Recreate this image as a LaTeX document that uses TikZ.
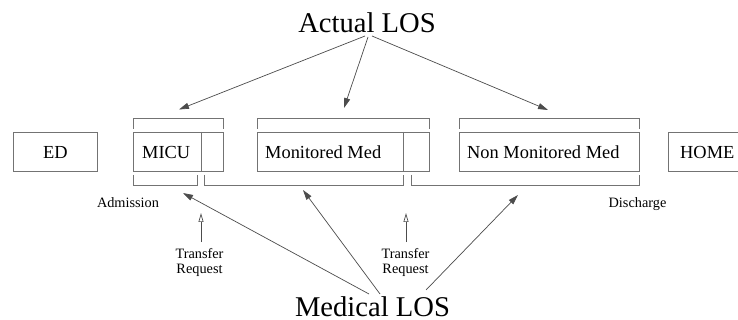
\documentclass[tikz,border=0pt]{standalone}
\usepackage{fontspec}
\setmainfont{Liberation Serif}
\usetikzlibrary{arrows.meta}
\begin{document}
\begin{tikzpicture}[x=1pt,y=-1pt,
  boxline/.style={draw=black!55,line width=0.9pt},
  unitbox/.style={boxline,rectangle,inner sep=0pt,minimum height=39pt,anchor=north west},
  boxtext/.style={font=\fontsize{18.4}{20}\selectfont,inner sep=0pt,anchor=base west},
  smalltext/.style={font=\fontsize{14.3}{15}\selectfont,inner sep=0pt,align=center},
  bigtext/.style={font=\fontsize{28.6}{30}\selectfont,inner sep=0pt,anchor=base},
  bracket/.style={draw=black!55,line width=0.9pt},
  losarrow/.style={draw=black!70,line width=0.7pt,-{Triangle[length=10pt,width=6pt]}},
  reqarrow/.style={draw=black!70,line width=0.7pt,-{Triangle[open,length=9pt,width=5pt,fill=white]}}
]
\useasboundingbox (0,0) rectangle (738,320);
\clip (0,0) rectangle (738,320);
\fill[white] (0,0) rectangle (738,320);

% unit boxes
\node[unitbox,minimum width=84pt] (ed) at (13,132) {};
\node[unitbox,minimum width=90pt] (micu) at (133,132) {};
\node[unitbox,minimum width=172pt] (mon) at (257,132) {};
\node[unitbox,minimum width=180pt] (nonmon) at (459,132) {};
\node[unitbox,minimum width=110pt] (home) at (668,132) {};
\draw[boxline] (201,132) -- (201,171);
\draw[boxline] (403,132) -- (403,171);

% box labels
\node[boxtext,anchor=base] (edt) at (55.5,159) {ED};
\node[boxtext] (micut) at (142,159) {MICU};
\node[boxtext] (mont) at (265,159) {Monitored Med};
\node[boxtext] (nonmont) at (467,159) {Non Monitored Med};
\node[boxtext] (homet) at (680,159) {HOME};

% top brackets (actual LOS)
\draw[bracket] (133,129) -- (133,118) -- (223,118) -- (223,129);
\draw[bracket] (257,129) -- (257,118) -- (429,118) -- (429,129);
\draw[bracket] (459,129) -- (459,118) -- (639,118) -- (639,129);

% bottom brackets (medical LOS)
\draw[bracket] (133,175) -- (133,185) -- (197,185) -- (197,175);
\draw[bracket] (204,175) -- (204,185) -- (403,185) -- (403,175);
\draw[bracket] (411,175) -- (411,185) -- (639,185) -- (639,175);

% small labels
\node[smalltext,anchor=base] (adm) at (128,207.5) {Admission};
\node[smalltext,anchor=base] (dis) at (637.5,207.5) {Discharge};
\node[smalltext] (tr1) at (199.5,262) {Transfer\\Request};
\node[smalltext] (tr2) at (405.5,262) {Transfer\\Request};

% big labels
\node[bigtext] (alos) at (367,32.3) {Actual LOS};
\node[bigtext] (mlos) at (372.5,316.7) {Medical LOS};

% connector end points
\coordinate (as1) at (365,36);
\coordinate (as2) at (368,37);
\coordinate (as3) at (372,36);
\coordinate (at1) at (179,109.5);
\coordinate (at2) at (344,108);
\coordinate (at3) at (548,110);
\coordinate (ms1) at (369,294);
\coordinate (ms2) at (380,294);
\coordinate (ms3) at (426,290);
\coordinate (mt1) at (183,193);
\coordinate (mt2) at (303,190);
\coordinate (mt3) at (518,195);
\coordinate (rs1) at (201,242);
\coordinate (rt1) at (201,213);
\coordinate (rs2) at (406,242);
\coordinate (rt2) at (406,213);

\draw[losarrow] (as1) -- (at1);
\draw[losarrow] (as2) -- (at2);
\draw[losarrow] (as3) -- (at3);
\draw[losarrow] (ms1) -- (mt1);
\draw[losarrow] (ms2) -- (mt2);
\draw[losarrow] (ms3) -- (mt3);
\draw[reqarrow] (rs1) -- (rt1);
\draw[reqarrow] (rs2) -- (rt2);
\end{tikzpicture}
\end{document}
